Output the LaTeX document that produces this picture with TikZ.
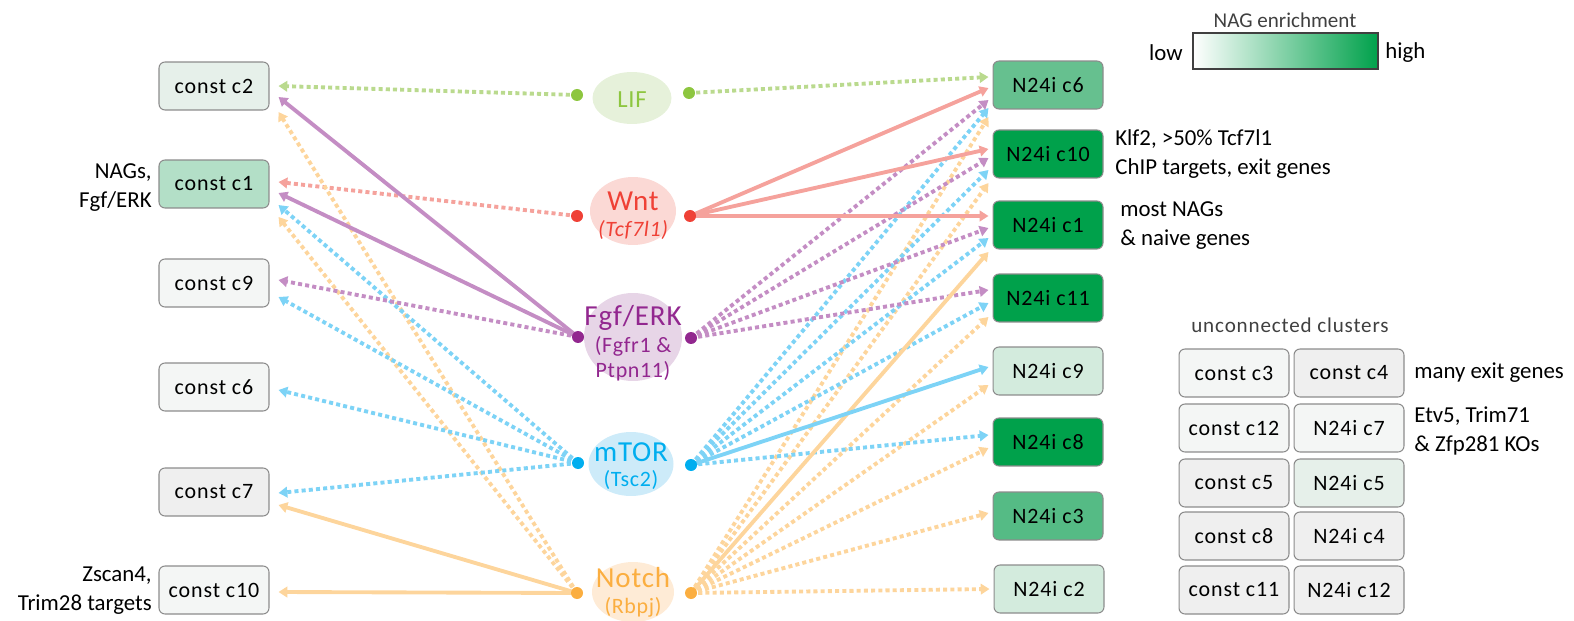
\documentclass[tikz,border=0pt]{standalone}
\usepackage{fontspec}
\setmainfont{Carlito}
\newfontfamily\boxfont[LetterSpace=4]{Carlito}
\newfontfamily\hubfont[LetterSpace=3]{Carlito}
\usetikzlibrary{arrows.meta, shapes.geometric}

\definecolor{lifDot}{HTML}{8DC63F}
\definecolor{lifLine}{HTML}{BADA8E}
\definecolor{lifBg}{HTML}{E6F1DA}
\definecolor{wntDot}{HTML}{EF4136}
\definecolor{wntLine}{HTML}{F5A29C}
\definecolor{wntBg}{HTML}{FBD9D5}
\definecolor{fgfDot}{HTML}{92278F}
\definecolor{fgfLine}{HTML}{C48DC4}
\definecolor{fgfBg}{HTML}{E7D5E7}
\definecolor{mtorDot}{HTML}{00AEEF}
\definecolor{mtorLine}{HTML}{7DD3F6}
\definecolor{mtorBg}{HTML}{CDEBF9}
\definecolor{notchDot}{HTML}{FBAE40}
\definecolor{notchLine}{HTML}{FDD59C}
\definecolor{notchBg}{HTML}{FEEBD6}
\definecolor{boxline}{HTML}{8C8C8C}
\definecolor{nagA}{HTML}{F4F6F5}
\definecolor{nagB}{HTML}{EFEFEF}
\definecolor{nagC}{HTML}{E6F0EA}
\definecolor{nagD}{HTML}{D3EBDD}
\definecolor{nagE}{HTML}{B3DFC7}
\definecolor{nagF}{HTML}{66C08F}
\definecolor{nagG}{HTML}{55BB85}
\definecolor{nagH}{HTML}{00A14B}
\definecolor{greytext}{HTML}{404040}

\tikzset{
    cluster/.style={draw=boxline, line width=0.6pt, rounded corners=0.12cm,
        minimum width=2.2cm, minimum height=0.96cm, inner sep=0pt,
        font=\boxfont\fontsize{12.5}{14}\selectfont},
    hub/.style={ellipse, inner sep=0pt},
    hubdot/.style={circle, inner sep=0pt, minimum size=0.24cm, fill=#1},
    hubbig/.style={inner sep=0pt, font=\hubfont\fontsize{16.5}{18}\selectfont},
    hubsmall/.style={inner sep=0pt, align=center, font=\hubfont\fontsize{12.5}{14}\selectfont},
    note/.style={inner sep=0pt, font=\fontsize{13}{16.5}\selectfont},
}
\tikzset{
    link/.style={line width=2.2pt, color=#1, -{Triangle[length=5pt,width=6pt]}},
    dotlink/.style={link=#1, dash pattern=on 2.3pt off 1.8pt},
}

\begin{document}
\begin{tikzpicture}[x=0.02cm, y=-0.02cm]
    \useasboundingbox (0,0) rectangle (1574,621);
    % pathway hubs
    \node[hub, fill=lifBg, minimum width=1.58cm, minimum height=1.04cm] (lif) at (632,98) {};
    \node[hub, fill=wntBg, minimum width=1.72cm, minimum height=1.36cm] (wnt) at (633,211) {};
    \node[hub, fill=fgfBg, minimum width=1.96cm, minimum height=1.76cm] (fgf) at (633,337) {};
    \node[hub, fill=mtorBg, minimum width=1.70cm, minimum height=1.28cm] (mtor) at (631,464) {};
    \node[hub, fill=notchBg, minimum width=1.64cm, minimum height=1.20cm] (notch) at (633,592) {};
    \node[hubbig, text=lifDot, font=\hubfont\fontsize{14}{16}\selectfont] (lifT) at (632,100) {LIF};
    \node[hubbig, text=wntDot] (wntT) at (633,201) {Wnt};
    \node[hubsmall, text=wntDot] (wntS) at (633,230) {\itshape(Tcf7l1)};
    \node[hubbig, text=fgfDot] (fgfT) at (633,318) {Fgf/ERK};
    \node[hubsmall, text=fgfDot] (fgfS) at (633,359) {(Fgfr1 \&\\Ptpn11)};
    \node[hubbig, text=mtorDot] (mtorT) at (631,452) {mTOR};
    \node[hubsmall, text=mtorDot] (mtorS) at (631,480) {(Tsc2)};
    \node[hubbig, text=notchDot] (notchT) at (633,578) {Notch};
    \node[hubsmall, text=notchDot] (notchS) at (633,607) {(Rbpj)};

    % constitutive clusters
    \node[cluster, fill=nagC] (kc2) at (214,86) {const c2};
    \node[cluster, fill=nagE] (kc1) at (214,184) {const c1};
    \node[cluster, fill=nagA] (kc9) at (214,283) {const c9};
    \node[cluster, fill=nagA] (kc6) at (214,387) {const c6};
    \node[cluster, fill=nagB] (kc7) at (214,492) {const c7};
    \node[cluster, fill=nagA] (kc10) at (214,590) {const c10};

    % N24i clusters
    \node[cluster, fill=nagF] (nc6) at (1048,85) {N24i c6};
    \node[cluster, fill=nagH] (nc10) at (1048,154) {N24i c10};
    \node[cluster, fill=nagH] (nc1) at (1048,225) {N24i c1};
    \node[cluster, fill=nagH] (nc11) at (1048,298) {N24i c11};
    \node[cluster, fill=nagD] (nc9) at (1048,371) {N24i c9};
    \node[cluster, fill=nagH] (nc8) at (1048,442) {N24i c8};
    \node[cluster, fill=nagG] (nc3) at (1048,516) {N24i c3};
    \node[cluster, fill=nagD] (nc2) at (1049,589) {N24i c2};

    \coordinate (lifL) at (577,95);   \coordinate (lifR) at (689,93);
    \coordinate (wntL) at (577,216);  \coordinate (wntR) at (690,216);
    \coordinate (fgfL) at (578,337);  \coordinate (fgfR) at (691,338);
    \coordinate (mtorL) at (578,463); \coordinate (mtorR) at (691,465);
    \coordinate (notchL) at (577,593); \coordinate (notchR) at (691,593);

    % links to the left
    \draw[dotlink=lifLine] (lifL) -- ([shift={(9,0)}]kc2.east);
    \draw[dotlink=wntLine] (wntL) -- ([shift={(9,-2)}]kc1.east);
    \foreach \b/\dy in {kc2/26, kc1/33}
        \draw[dotlink=notchLine] (notchL) -- ([shift={(9,\dy)}]\b.east);
    \foreach \b/\dy in {kc1/21, kc9/14, kc6/3, kc7/1}
        \draw[dotlink=mtorLine] (mtorL) -- ([shift={(9,\dy)}]\b.east);
    \draw[dotlink=fgfLine] (fgfL) -- ([shift={(9,-3)}]kc9.east);
    \foreach \b/\dy in {kc2/11, kc1/9}
        \draw[link=fgfLine] (fgfL) -- ([shift={(9,\dy)}]\b.east);
    \foreach \b/\dy in {kc7/13, kc10/2}
        \draw[link=notchLine] (notchL) -- ([shift={(9,\dy)}]\b.east);

    % links to the right
    \draw[dotlink=lifLine] (lifR) -- ([shift={(-4,-8)}]nc6.west);
    \foreach \b/\dy in {nc6/32, nc10/29, nc11/19, nc9/14, nc8/6, nc3/-3, nc2/0}
        \draw[dotlink=notchLine] (notchR) -- ([shift={(-4,\dy)}]\b.west);
    \foreach \b/\dy in {nc6/23, nc10/16, nc1/13, nc11/5, nc8/-7}
        \draw[dotlink=mtorLine] (mtorR) -- ([shift={(-4,\dy)}]\b.west);
    \foreach \b/\dy in {nc6/15, nc10/4, nc1/3, nc11/-8}
        \draw[dotlink=fgfLine] (fgfR) -- ([shift={(-4,\dy)}]\b.west);
    \draw[link=notchLine] (notchR) -- ([shift={(-4,27)}]nc1.west);
    \draw[link=mtorLine] (mtorR) -- ([shift={(-4,-4)}]nc9.west);
    \foreach \b/\dy in {nc6/3, nc10/-5, nc1/-9}
        \draw[link=wntLine] (wntR) -- ([shift={(-4,\dy)}]\b.west);

    \foreach \h/\c in {lif/lifDot, wnt/wntDot, fgf/fgfDot, mtor/mtorDot, notch/notchDot}{
        \node[hubdot=\c] at (\h L) {};
        \node[hubdot=\c] at (\h R) {};
    }

    % notes
    \node[note, anchor=east, align=right] (n1) at (152,188) {NAGs,\\Fgf/ERK};
    \node[note, anchor=east, align=right] (n2) at (152,591) {Zscan4,\\Trim28 targets};
    \node[note, anchor=west, align=left] (n3) at (1115,154) {Klf2, >50\% Tcf7l1\\ChIP targets, exit genes};
    \node[note, anchor=west, align=left] (n4) at (1120,226) {most NAGs\\\& naive genes};

    % legend
    \node[inner sep=0pt, font=\fontsize{12}{14}\selectfont, text=greytext] (legT) at (1285,20) {NAG enrichment};
    \shade[left color=white, right color=nagH] (1193,33) rectangle (1378,69);
    \draw[draw=greytext, line width=0.7pt] (1193,33) rectangle (1378,69);
    \node[note, anchor=east] (low) at (1183,53) {low};
    \node[note, anchor=west] (high) at (1385,53) {high};

    % unconnected clusters
    \node[inner sep=0pt, text=greytext, font=\boxfont\fontsize{12}{14}\selectfont] (unT) at (1290,325) {unconnected clusters};
    \node[cluster, fill=nagA] (kc3) at (1234,373) {const c3};
    \node[cluster, fill=nagB] (kc4) at (1349,373) {const c4};
    \node[cluster, fill=nagA] (kc12) at (1234,428) {const c12};
    \node[cluster, fill=nagA] (nc7) at (1349,428) {N24i c7};
    \node[cluster, fill=nagB] (kc5) at (1234,483) {const c5};
    \node[cluster, fill=nagC] (nc5) at (1349,483) {N24i c5};
    \node[cluster, fill=nagB] (kc8) at (1234,536) {const c8};
    \node[cluster, fill=nagB] (nc4) at (1349,536) {N24i c4};
    \node[cluster, fill=nagB] (kc11) at (1234,590) {const c11};
    \node[cluster, fill=nagB] (nc12) at (1349,590) {N24i c12};
    \node[note, anchor=west] (n5) at (1414,373) {many exit genes};
    \node[note, anchor=west, align=left] (n6) at (1414,431) {Etv5, Trim71\\\& Zfp281 KOs};
\end{tikzpicture}
\end{document}
